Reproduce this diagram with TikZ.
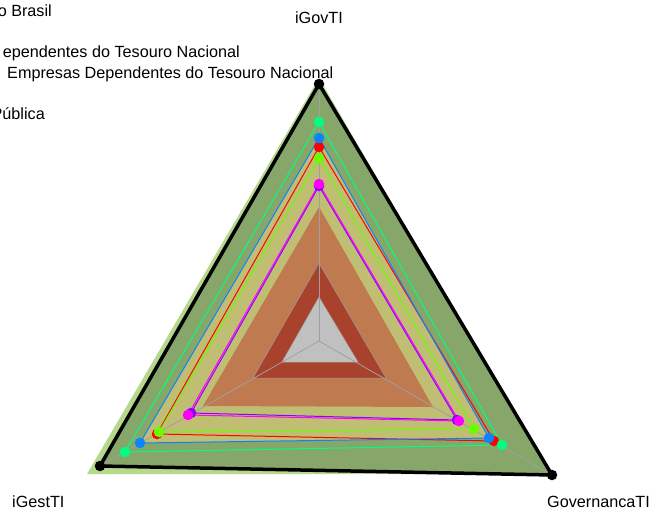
\documentclass[tikz,border=0pt]{standalone}
\usepackage{fontspec}
\setmainfont{Liberation Sans}
\definecolor{lgreen}{HTML}{B5D88C}
\definecolor{olive}{HTML}{87A66A}
\definecolor{khaki}{HTML}{C0BE73}
\definecolor{obrown}{HTML}{C07A50}
\definecolor{dred}{HTML}{A8422C}
\definecolor{cgray}{HTML}{C0C0C0}
\definecolor{axisgray}{HTML}{A0A0A0}
\definecolor{sgreen}{HTML}{00FF80}
\definecolor{sblue}{HTML}{0A84FF}
\definecolor{sred}{HTML}{FF0000}
\definecolor{slime}{HTML}{66FF00}
\definecolor{spurple}{HTML}{8C00FF}
\definecolor{smag}{HTML}{FF00FF}
\begin{document}
\begin{tikzpicture}[x=1pt,y=-1pt,
  lbl/.style={font=\fontsize{16.2}{19}\selectfont, inner sep=0pt},
  axisline/.style={draw=axisgray, line width=0.8pt},
  series/.style={line width=1pt, line join=round},
  dot/.style={circle, fill=#1, draw=none, inner sep=0pt, minimum size=10.5pt},
]
\useasboundingbox (0,0) rectangle (650,511);
% centre
\coordinate (C) at (319,341);
% series vertices
\coordinate (kT) at (319,84);  \coordinate (kL) at (100,466); \coordinate (kR) at (552,475);
\coordinate (gT) at (319,122); \coordinate (gL) at (125,452); \coordinate (gR) at (502,445);
\coordinate (bT) at (319,138); \coordinate (bL) at (140,443); \coordinate (bR) at (489,438);
\coordinate (rT) at (319,147); \coordinate (rL) at (157,434); \coordinate (rR) at (494,441);
\coordinate (lT) at (319,158); \coordinate (lL) at (159,432); \coordinate (lR) at (474,429);
\coordinate (pT) at (319,186); \coordinate (pL) at (191,413); \coordinate (pR) at (457,420);
\coordinate (mT) at (319,184); \coordinate (mL) at (188,415); \coordinate (mR) at (459,421);
% band vertices
\coordinate (aT) at (319,78);  \coordinate (aL) at (87,474);  \coordinate (aR) at (549,474);
\coordinate (oT) at (319,207); \coordinate (oL) at (203,406); \coordinate (oR) at (433,407);
\coordinate (dT) at (319,263); \coordinate (dL) at (253,378); \coordinate (dR) at (386,378);
\coordinate (cT) at (319,297); \coordinate (cL) at (282,362); \coordinate (cR) at (358,362);
% filled bands
\fill[lgreen] (aT) -- (aL) -- (aR) -- cycle;
\fill[olive] (kT) -- (kL) -- (kR) -- cycle;
\fill[khaki] (bT) -- (bL) -- (bR) -- cycle;
\fill[obrown] (oT) -- (oL) -- (oR) -- cycle;
\fill[dred, draw=axisgray, line width=0.5pt] (dT) -- (dL) -- (dR) -- cycle;
\fill[cgray, draw=axisgray, line width=0.5pt] (cT) -- (cL) -- (cR) -- cycle;
% axes
\draw[axisline] (C) -- (kT);
\draw[axisline] (C) -- (kL);
\draw[axisline] (C) -- (kR);
% series outlines
\draw[series, line width=3.5pt, black] (kT) -- (kL) -- (kR) -- cycle;
\draw[series, sred] (rT) -- (rL) -- (rR) -- cycle;
\draw[series, sgreen] (gT) -- (gL) -- (gR) -- cycle;
\draw[series, sblue] (bT) -- (bL) -- (bR) -- cycle;
\draw[series, slime] (lT) -- (lL) -- (lR) -- cycle;
\draw[series, spurple] (pT) -- (pL) -- (pR) -- cycle;
\draw[series, smag] (mT) -- (mL) -- (mR) -- cycle;
% dots
\foreach \s/\c in {k/black, r/sred, g/sgreen, b/sblue, l/slime, p/spurple, m/smag}{
  \foreach \v in {T,L,R}{
    \node[dot=\c] (dot\s\v) at (\s\v) {};
  }
}
% labels
\node[lbl, anchor=base] (axgov) at (319,24) {iGovTI};
\node[lbl, anchor=base west] (axgest) at (12,507) {iGestTI};
\node[lbl, anchor=base west] (axgovern) at (547,507) {GovernancaTI};
\node[lbl, anchor=base east] (lg1) at (52,17) {o Brasil};
\node[lbl, anchor=base east] (lg2) at (240,57) {ependentes do Tesouro Nacional};
\node[lbl, anchor=base west] (lg3) at (7,78) {Empresas Dependentes do Tesouro Nacional};
\node[lbl, anchor=base east] (lg4) at (45,119) {Pública};
\end{tikzpicture}
\end{document}
